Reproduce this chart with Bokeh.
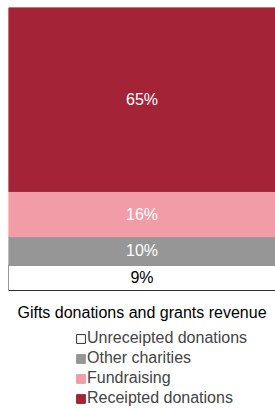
from bokeh.plotting import figure
from bokeh.models import Legend, LegendItem, Label, Range1d, ColumnDataSource
from bokeh.embed import file_html
from bokeh.resources import INLINE
from bokeh.core.properties import value

categories = ["Unreceipted donations", "Other charities", "Fundraising", "Receipted donations"]
values = [9, 10, 16, 65]
colors = ["#FFFFFF", "#969696", "#F19CA7", "#A52336"]
outline = ["#303030", "#969696", "#F19CA7", "#A52336"]
label_colors = ["#000000", "#FFFFFF", "#FFFFFF", "#FFFFFF"]
title_text = "Gifts donations and grants revenue"

W, H = 275, 409
LEFT, TOP = 8, 7
frame_h = H - TOP
bar_px = 283.0
total = sum(values)
y_end = total
y_start = total - frame_h * total / bar_px

p = figure(width=W, height=H, output_backend="svg", toolbar_location=None,
           x_range=Range1d(-0.5, 0.5), y_range=Range1d(y_start, y_end),
           min_border_left=LEFT, min_border_top=TOP, min_border_right=0,
           min_border_bottom=0, outline_line_color=None)
p.axis.visible = False
p.grid.visible = False
p.background_fill_color = "white"
p.border_fill_color = "white"

data = {"x": [0]}
for c, v in zip(categories, values):
    data[c] = [v]
src = ColumnDataSource(data)
rs = p.vbar_stack(categories, x="x", width=1.0, source=src, color=colors,
                  line_color=outline, line_width=1)

bottoms = []
acc = 0
for v in values:
    bottoms.append(acc)
    acc += v
mids = [b + v / 2 for b, v in zip(bottoms, values)]
texts = [f"{v}%" for v in values]
lsrc = ColumnDataSource(dict(x=[0] * len(values), y=mids, t=texts, c=label_colors))
p.text(x="x", y="y", text="t", source=lsrc, text_color="c",
       text_align="center", text_baseline="middle",
       text_font=value("Liberation Sans"), text_font_size="16px")

title = Label(x=0, y=97, x_units="data", y_units="screen", text=title_text,
              text_align="center", text_baseline="middle",
              text_font="Liberation Sans", text_font_size="16px", text_color="#000000")
p.add_layout(title)

items = [LegendItem(label=c, renderers=[r]) for c, r in zip(categories, rs)]
legend = Legend(items=items, location=(67, 1), orientation="vertical",
                padding=0, margin=0, spacing=0, border_line_color=None,
                background_fill_alpha=0, glyph_width=11, glyph_height=11,
                label_standoff=1, label_height=20,
                label_text_font="Liberation Sans", label_text_font_size="16px",
                label_text_baseline="middle")
p.add_layout(legend, "center")

open("out.html", "w").write(file_html(p, INLINE))
